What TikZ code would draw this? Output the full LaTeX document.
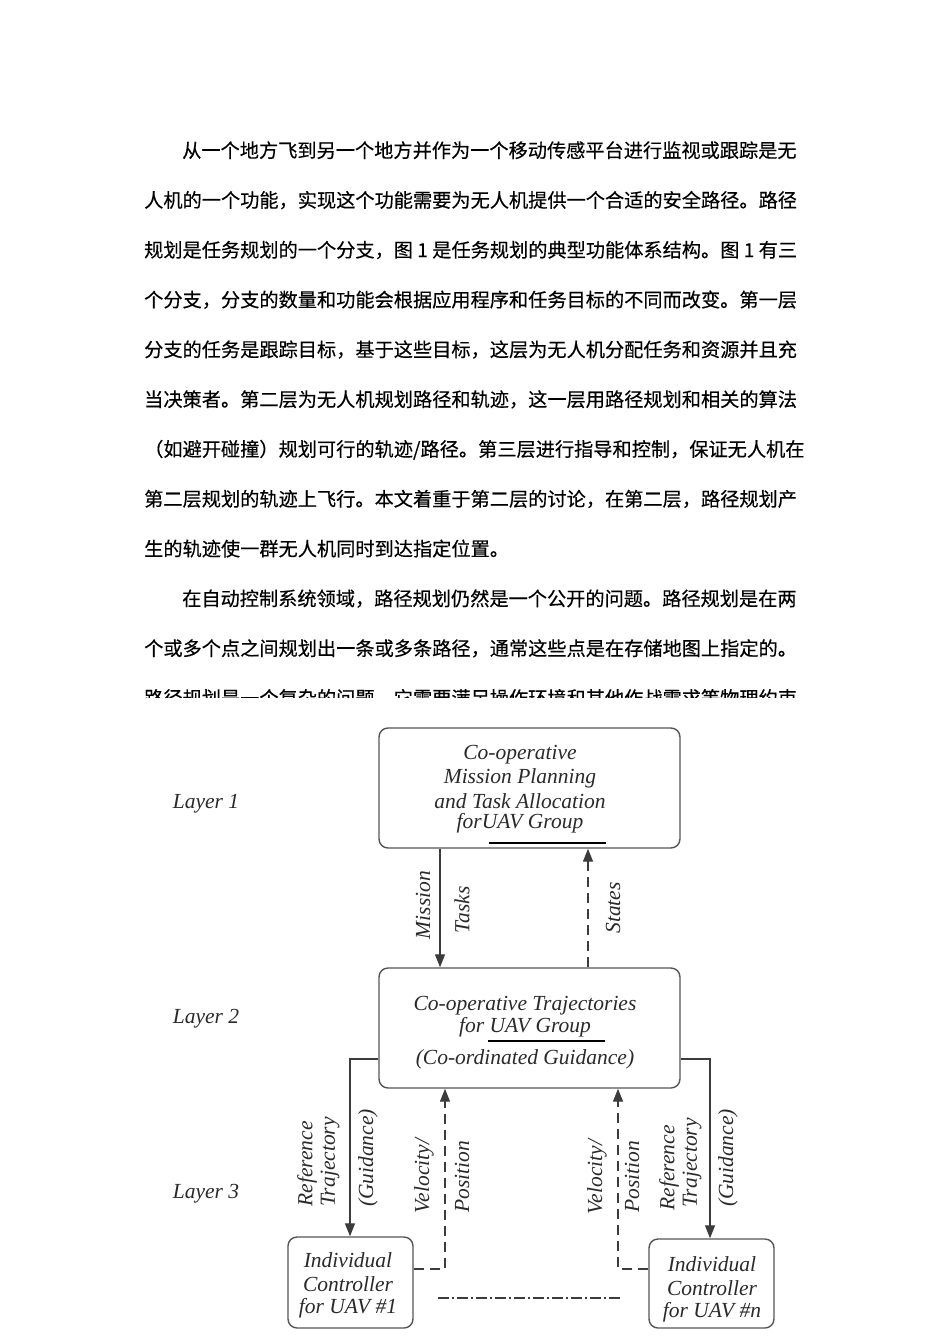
\documentclass[tikz,border=0pt]{standalone}
\usepackage{fontspec}
\usetikzlibrary{arrows.meta}
\newfontfamily\cjkf[FakeBold=0.35]{Noto Sans CJK SC}
\newfontfamily\dfont{Liberation Serif}
\definecolor{txt}{HTML}{2A2A2A}
\definecolor{ln}{HTML}{3C3C3C}
\definecolor{bx}{HTML}{555555}
\tikzset{
  zh/.style={anchor=base west,inner sep=0,font=\cjkf\fontsize{19.2}{20}\selectfont,text=black},
  bbox/.style={draw=bx,line width=1.4pt,rounded corners=9pt,minimum width=#1},
  lbl/.style={inner sep=0,font=\dfont\itshape\fontsize{21.5}{24}\selectfont,text=txt},
  vlbl/.style={lbl,rotate=90},
  arr/.style={draw=ln,line width=1.3pt,-{Triangle[length=13pt,width=10pt]}},
  dsh/.style={arr,dash pattern=on 10pt off 6pt},
  dashdot/.style={draw=ln,line width=1.3pt,dash pattern=on 11pt off 3pt on 2pt off 3pt},
  uline/.style={draw=black,line width=2pt}
}
\begin{document}
\begin{tikzpicture}[x=1pt,y=-1pt]
\path[use as bounding box,fill=white] (0,0) rectangle (950,1344);
% ---- Chinese text ----
\node[zh] (t1) at (182,157.5) {从一个地方飞到另一个地方并作为一个移动传感平台进行监视或跟踪是无};
\node[zh] (t2) at (144,207.3) {人机的一个功能，实现这个功能需要为无人机提供一个合适的安全路径。路径};
\node[zh] (t3) at (144,257.1) {规划是任务规划的一个分支，图 1 是任务规划的典型功能体系结构。图 1 有三};
\node[zh] (t4) at (144,306.9) {个分支，分支的数量和功能会根据应用程序和任务目标的不同而改变。第一层};
\node[zh] (t5) at (144,356.7) {分支的任务是跟踪目标，基于这些目标，这层为无人机分配任务和资源并且充};
\node[zh] (t6) at (144,406.5) {当决策者。第二层为无人机规划路径和轨迹，这一层用路径规划和相关的算法};
\node[zh] (t7) at (144,456.3) {（如避开碰撞）规划可行的轨迹/路径。第三层进行指导和控制，保证无人机在};
\node[zh] (t8) at (144,506.1) {第二层规划的轨迹上飞行。本文着重于第二层的讨论，在第二层，路径规划产};
\node[zh] (t9) at (144,555.9) {生的轨迹使一群无人机同时到达指定位置。};
\node[zh] (t10) at (182,605.7) {在自动控制系统领域，路径规划仍然是一个公开的问题。路径规划是在两};
\node[zh] (t11) at (144,655.5) {个或多个点之间规划出一条或多条路径，通常这些点是在存储地图上指定的。};
\begin{scope}
\clip (0,0) rectangle (950,697);
\node[zh] (t12) at (144,705.3) {路径规划是一个复杂的问题，它需要满足操作环境和其他作战需求等物理约束};
\end{scope}
% ---- boxes ----
\node[bbox=301pt,minimum height=120pt] (b1) at (529.5,788) {};
\node[bbox=301pt,minimum height=120pt] (b2) at (529.5,1028) {};
\node[bbox=125pt,minimum height=91pt] (b3) at (350.5,1282.5) {};
\node[bbox=125pt,minimum height=89pt] (b4) at (711.5,1283.5) {};
% box texts
\node[lbl] (b1a) at (520,754.5) {Co-operative};
\node[lbl] (b1b) at (520,778) {Mission Planning};
\node[lbl] (b1c) at (520,801.5) {and Task Allocation};
\node[lbl] (b1d) at (520,823.5) {forUAV Group};
\coordinate (u1a) at (489,842.5); \coordinate (u1b) at (606,842.5);
\draw[uline] (u1a) -- (u1b);
\node[lbl] (b2a) at (525,1005.5) {Co-operative Trajectories};
\node[lbl] (b2b) at (525,1027) {for UAV Group};
\coordinate (u2a) at (488,1041); \coordinate (u2b) at (605,1041);
\draw[uline] (u2a) -- (u2b);
\node[lbl] (b2c) at (525,1059) {(Co-ordinated Guidance)};
\node[lbl] (b3a) at (348,1260.5) {Individual};
\node[lbl] (b3b) at (348,1284.5) {Controller};
\node[lbl] (b3c) at (348,1308.5) {for UAV \#1};
\node[lbl] (b4a) at (712,1264.5) {Individual};
\node[lbl] (b4b) at (712,1288.5) {Controller};
\node[lbl] (b4c) at (712,1312) {for UAV \#n};
% layer labels
\node[lbl] (L1) at (206,803.5) {Layer 1};
\node[lbl] (L2) at (206,1018.5) {Layer 2};
\node[lbl] (L3) at (206,1193.5) {Layer 3};
% ---- connectors ----
\coordinate (mx) at (440,0);
\coordinate (sx) at (588,0);
\draw[arr] (b1.south -| mx) -- (b2.north -| mx);
\draw[dsh] (b2.north -| sx) -- (b1.south -| sx);
\node[vlbl] (mis) at (423,905) {Mission};
\node[vlbl] (tas) at (462,910) {Tasks};
\node[vlbl] (sta) at (613,908) {States};
\coordinate (ly) at (0,1059);
\coordinate (lx) at (350,0);
\coordinate (rx) at (710,0);
\draw[arr] (b2.west |- ly) -| (b3.north -| lx);
\draw[arr] (b2.east |- ly) -| (b4.north -| rx);
\coordinate (vy) at (0,1269);
\coordinate (vlx) at (445,0);
\coordinate (vrx) at (618,0);
\draw[dsh] (b3.east |- vy) -| (b2.south -| vlx);
\draw[dsh] (b4.west |- vy) -| (b2.south -| vrx);
\coordinate (dd1) at (438,1298); \coordinate (dd2) at (620,1298);
\draw[dashdot] (dd1) -- (dd2);
\node[vlbl] (refl) at (307,1164) {Reference};
\node[vlbl] (trjl) at (330,1162) {Trajectory};
\node[vlbl] (gdl) at (368,1158) {(Guidance)};
\node[vlbl] (vell) at (424,1176) {Velocity/};
\node[vlbl] (posl) at (462,1177) {Position};
\node[vlbl] (velr) at (597,1177) {Velocity/};
\node[vlbl] (posr) at (632,1177) {Position};
\node[vlbl] (refr) at (669,1168) {Reference};
\node[vlbl] (trjr) at (692,1163) {Trajectory};
\node[vlbl] (gdr) at (728,1158) {(Guidance)};
\end{tikzpicture}
\end{document}
